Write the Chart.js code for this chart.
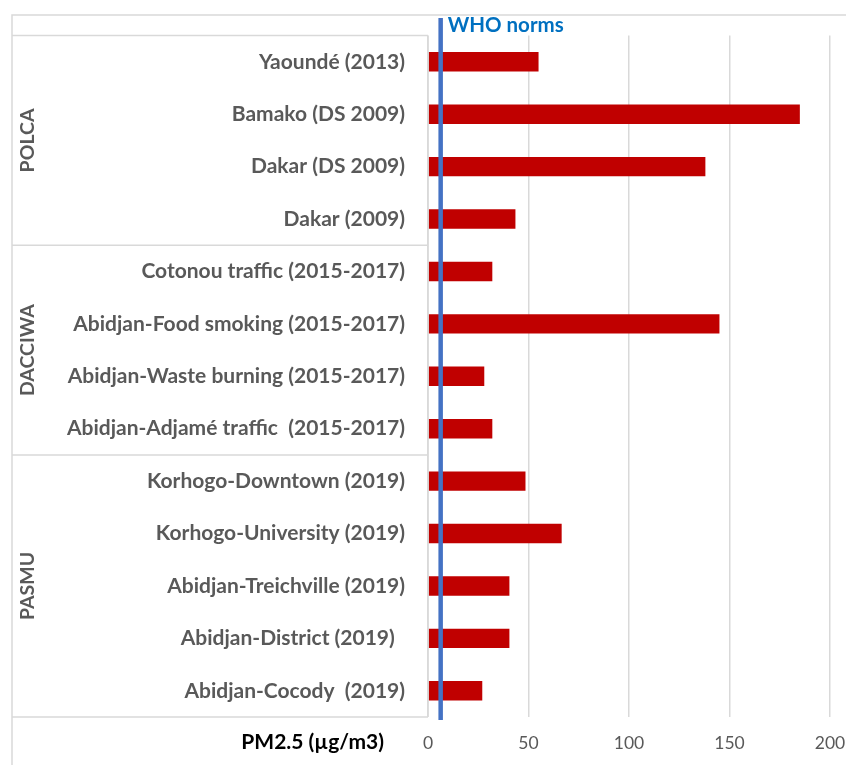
<!DOCTYPE html>
<html>
<head>
<meta charset="utf-8">
<script src="https://cdn.jsdelivr.net/npm/chart.js"></script>
<style>
  html, body { margin: 0; padding: 0; background: #ffffff; }
  #wrap { width: 846px; height: 765px; }
</style>
</head>
<body>
<div id="wrap"><canvas id="myChart" width="846" height="765"></canvas></div>
<script>
// Sites, top to bottom
var sites = [
	"Yaoundé (2013)",
	"Bamako (DS 2009)",
	"Dakar (DS 2009)",
	"Dakar (2009)",
	"Cotonou traffic (2015-2017)",
	"Abidjan-Food smoking (2015-2017)",
	"Abidjan-Waste burning (2015-2017)",
	"Abidjan-Adjamé traffic  (2015-2017)",
	"Korhogo-Downtown (2019)",
	"Korhogo-University (2019)",
	"Abidjan-Treichville (2019)",
	"Abidjan-District (2019)  ",
	"Abidjan-Cocody  (2019)"
];
// PM2.5 concentration (µg/m3)
var pm25 = [55, 185, 138, 43.5, 32, 145, 28, 32, 48.5, 66.5, 40.5, 40.5, 27];
// campaign groups and how many sites each holds
var groups = ["POLCA", "DACCIWA", "PASMU"];
var groupSizes = [4, 4, 5];
var whoNorm = 6.3;
var xTicks = [0, 50, 100, 150, 200];

var GREY = "#595959";
var GRID = "#d9d9d9";
var FONT = "Lato, 'Open Sans', sans-serif";

// draws the group boxes, group names, WHO line and the axis title
var decorPlugin = {
	id: "decor",
	afterDraw: function (chart) {
		var ctx = chart.ctx;
		var x = chart.scales.x;
		var y = chart.scales.y;
		var area = chart.chartArea;
		ctx.save();

		// outer frame
		ctx.strokeStyle = GRID;
		ctx.lineWidth = 1.5;
		ctx.beginPath();
		ctx.moveTo(12, 765);
		ctx.lineTo(12, 15);
		ctx.lineTo(846, 15);
		ctx.stroke();

		// group separators
		var start = 0;
		var edges = [y.getPixelForValue(-0.5)];
		groups.forEach(function (g, i) {
			var end = start + groupSizes[i];
			edges.push(y.getPixelForValue(end - 0.5));
			start = end;
		});
		edges.forEach(function (py) {
			ctx.beginPath();
			ctx.moveTo(12, py);
			ctx.lineTo(area.left, py);
			ctx.stroke();
		});
		ctx.beginPath();
		ctx.moveTo(area.left, edges[0]);
		ctx.lineTo(area.left, edges[edges.length - 1]);
		ctx.stroke();

		// group names
		ctx.fillStyle = GREY;
		ctx.font = "bold 19.5px " + FONT;
		ctx.textAlign = "center";
		ctx.textBaseline = "middle";
		start = 0;
		groups.forEach(function (g, i) {
			var mid = start + (groupSizes[i] - 1) / 2;
			var py = y.getPixelForValue(mid);
			ctx.save();
			ctx.translate(28, py);
			ctx.rotate(-Math.PI / 2);
			ctx.fillText(g, 0, 0);
			ctx.restore();
			start += groupSizes[i];
		});

		// WHO norm line
		var wx = x.getPixelForValue(whoNorm);
		ctx.strokeStyle = "#4472C4";
		ctx.lineWidth = 4.5;
		ctx.beginPath();
		ctx.moveTo(wx, 18);
		ctx.lineTo(wx, area.bottom + 3);
		ctx.stroke();
		ctx.fillStyle = "#0070C0";
		ctx.font = "bold 20.5px " + FONT;
		ctx.textAlign = "left";
		ctx.fillText("WHO norms", wx + 7, 25);

		// axis title
		ctx.fillStyle = "#000000";
		ctx.font = "bold 21px " + FONT;
		ctx.textAlign = "right";
		ctx.fillText("PM2.5 (µg/m3)", 384, 742);

		ctx.restore();
	}
};

var ctx = document.getElementById("myChart").getContext("2d");
var chart = new Chart(ctx, {
	type: "bar",
	data: {
		labels: sites,
		datasets: [
			{
				label: "PM2.5",
				data: pm25,
				backgroundColor: "#C00000",
				borderWidth: 0,
				categoryPercentage: 1,
				barPercentage: 0.37
			}
		]
	},
	options: {
		indexAxis: "y",
		responsive: false,
		animation: false,
		layout: {
			padding: { top: 35, right: 0, bottom: 0, left: 0 }
		},
		scales: {
			x: {
				min: 0,
				max: 200,
				afterBuildTicks: function (scale) {
					scale.ticks = xTicks.map(function (v) { return { value: v }; });
				},
				afterFit: function (scale) {
					scale.height = 48;
					scale.paddingLeft = 0;
					scale.paddingRight = 16;
				},
				grid: {
					color: GRID,
					lineWidth: 1.5,
					drawTicks: false
				},
				border: { display: false },
				ticks: {
					color: GREY,
					padding: 16,
					font: { family: FONT, size: 17.5 }
				}
			},
			y: {
				afterFit: function (scale) {
					scale.width = 428;
				},
				grid: { display: false, drawTicks: false },
				border: { display: false },
				ticks: {
					color: GREY,
					padding: 23,
					autoSkip: false,
					font: { family: FONT, size: 21, weight: "bold" }
				}
			}
		},
		plugins: {
			legend: { display: false },
			tooltip: { enabled: false }
		}
	},
	plugins: [decorPlugin]
});
</script>
</body>
</html>
